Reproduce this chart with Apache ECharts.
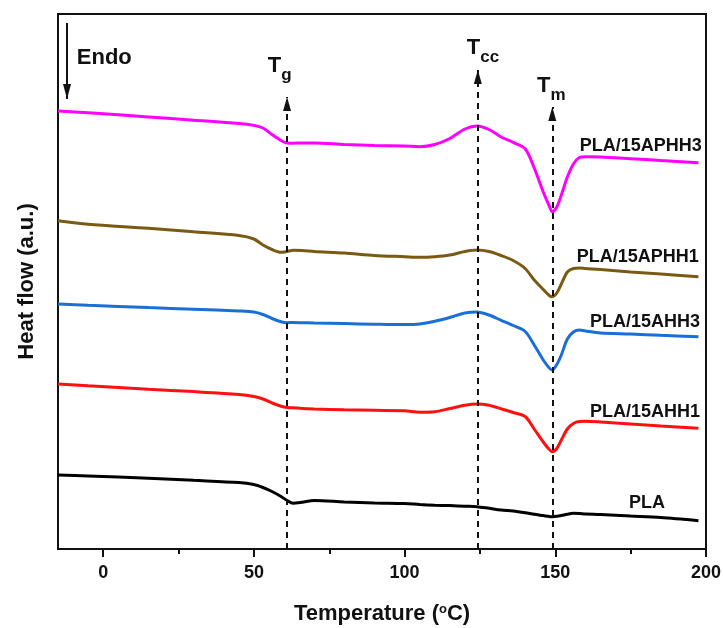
<!DOCTYPE html>
<html><head><meta charset="utf-8">
<script src="https://cdn.jsdelivr.net/npm/echarts@6/dist/echarts.min.js"></script>
<style>html,body{margin:0;padding:0;background:#fff}#c{width:723px;height:628px}</style>
</head><body><div id="c"></div>
<script>
// Temperature (°C) sample points shared by all curves
const temperature = [-15, -5, 15, 30, 45, 50, 53, 56, 59, 61, 63, 66, 70, 80, 90, 100, 105, 110, 115, 120, 124, 128, 132, 136, 140, 143, 146, 148, 149, 150.5, 152, 154, 156, 158, 160, 165, 175, 185, 197.5];
// Heat flow (a.u., stacked/offset as in the figure)
const heatPLA_15APHH3 = [438, 436.3, 432, 428.8, 425.5, 423.6, 421, 414.5, 408.5, 406, 405.8, 406, 406, 404.5, 403.5, 403, 402.3, 404.5, 410.5, 420, 423, 419.5, 412, 406.7, 400.2, 381, 357, 343, 337.3, 342, 354, 372, 385, 391.5, 392.3, 392, 390.3, 388.5, 386.3];
const heatPLA_15APHH1 = [328.3, 324.7, 320.8, 317.2, 313.5, 310, 304, 299.5, 296.7, 297.5, 298.7, 298.5, 297.5, 296, 293.5, 292.3, 291.7, 292.3, 294, 297.5, 299, 297.5, 293.5, 288.5, 280.5, 269, 259.5, 253.5, 252.3, 256, 265, 277, 280.5, 281, 280.5, 279.5, 277, 275, 272.3];
const heatPLA_15AHH3 = [245, 243.7, 241.4, 239.8, 238, 237, 234.5, 230.5, 227.3, 226.3, 226.5, 226.3, 226, 225.4, 224.8, 224.4, 225, 227.7, 231.5, 236, 237, 234, 228.7, 223.5, 217.5, 204, 189, 181, 179, 184.5, 194, 210, 217, 219, 218, 216, 215, 213.7, 212.3];
const heatPLA_15AHH1 = [165, 163.2, 159.8, 157.4, 154.5, 152.5, 150, 146, 142.8, 141.5, 141.2, 140.5, 140, 139.2, 138.7, 138.3, 136.8, 137.3, 140.5, 143.7, 145, 143.7, 140.3, 136.5, 132.5, 120, 107, 99.5, 97.3, 100.5, 109, 120, 125.5, 127.5, 127.7, 127, 125, 123, 120.7];
const heatPLA = [74, 73, 70.8, 68.7, 66.5, 64.5, 61.5, 57.5, 52.5, 48.5, 45.7, 46.7, 48.5, 47, 46, 45.5, 44.5, 43.8, 43.4, 42.8, 42.3, 40.7, 39, 38, 36.3, 34.7, 33.4, 32.5, 32.3, 32.7, 33.5, 34.8, 35.7, 35.5, 35, 34.5, 33, 31.5, 28.3];
const seriesNames = ['PLA/15APHH3', 'PLA/15APHH1', 'PLA/15AHH3', 'PLA/15AHH1', 'PLA'];
// Transition temperatures marked by dashed arrows
const transitionTemps = [61, 124.3, 149];
const transitionSubs = ['g', 'cc', 'm'];
const xTickValues = [0, 50, 100, 150, 200];
const xMinorTickValues = [25, 75, 125, 175];

const FONT = 'Arial, "Liberation Sans", Helvetica, sans-serif';
const heats = [heatPLA_15APHH3, heatPLA_15APHH1, heatPLA_15AHH3, heatPLA_15AHH1, heatPLA];
const colors = ['#ff00ff', '#7a5912', '#1a6fd6', '#ff1010', '#000000'];
const labelAnchors = [[198.8, 402], [197.8, 291], [198.2, 226.5], [198.2, 136], [186.6, 45]];
const arrowTips = [452, 479, 442];
const tLabelAnchors = [[54.8, 494], [120.8, 512], [144.1, 474]];
const arrowPath = 'path://M5 0 L10 14 L0 14 Z';

const series = seriesNames.map((name, i) => ({
  name, type: 'line', smooth: 0.3, symbol: 'none',
  data: temperature.map((t, j) => [t, heats[i][j]]),
  lineStyle: { color: colors[i], width: 3 },
  itemStyle: { color: colors[i] },
  silent: true, z: 3,
  markPoint: {
    silent: true, symbol: 'circle', symbolSize: 1, itemStyle: { color: 'rgba(0,0,0,0)' },
    label: { show: true, position: [0, 0], align: 'right', verticalAlign: 'middle', formatter: '{b}',
      color: '#111', fontSize: 18, fontWeight: 'bold', fontFamily: FONT },
    data: [{ name, coord: labelAnchors[i] }]
  }
}));

// annotation markers attached to the PLA series
const pla = series[4];
pla.markLine = {
  silent: true, animation: false, symbol: ['none', arrowPath], symbolSize: [10, 14],
  label: { show: false },
  lineStyle: { color: '#111', width: 2, type: [6, 5] },
  data: transitionTemps.map((t, i) => [
    { coord: [t, 0], symbol: 'none' },
    { coord: [t, arrowTips[i]], symbol: arrowPath, symbolSize: [8, 14], symbolOffset: [0, 7] }
  ]).concat([[
    { coord: [-12, 526], symbol: 'none', lineStyle: { type: 'solid', width: 2, color: '#111' } },
    { coord: [-12, 450], symbol: arrowPath, symbolSize: [8, 15], symbolOffset: [0, 7.5] }
  ]])
};
pla.markPoint.data = pla.markPoint.data.concat(
  transitionSubs.map((s, i) => ({
    name: s, coord: tLabelAnchors[i],
    label: { show: true, position: [0, 0], align: 'left', verticalAlign: 'top',
      formatter: '{t|T}{s|' + s + '}',
      rich: {
        t: { fontSize: 22, fontWeight: 'bold', fontFamily: FONT, color: '#111', lineHeight: 22, verticalAlign: 'top' },
        s: { fontSize: 17, fontWeight: 'bold', fontFamily: FONT, color: '#111', lineHeight: 17, padding: [12, 0, 0, 0], verticalAlign: 'top' }
      } }
  })),
  [{ name: 'Endo', coord: [-8.6, 502],
     label: { show: true, position: [0, 0], align: 'left', verticalAlign: 'top', formatter: 'Endo',
       fontSize: 22, fontWeight: 'bold', fontFamily: FONT, color: '#111', lineHeight: 22 } }]
);

const chart = echarts.init(document.getElementById('c'), null, { renderer: 'canvas' });
chart.setOption({
  animation: false,
  backgroundColor: '#fff',
  grid: { left: 58, right: 17, top: 14, bottom: 79, show: true, borderColor: '#111', borderWidth: 2, outerBoundsMode: 'none' },
  xAxis: [{
    type: 'value', min: -15, max: 200,
    name: '{a|Temperature (}{s|o}{a|C)}', nameLocation: 'middle', nameGap: 54,
    nameTextStyle: { rich: {
      a: { fontSize: 22, fontWeight: 'bold', fontFamily: FONT, color: '#111', lineHeight: 22, verticalAlign: 'bottom' },
      s: { fontSize: 13, fontWeight: 'bold', fontFamily: FONT, color: '#111', lineHeight: 13, verticalAlign: 'top' } } },
    axisLine: { onZero: false, lineStyle: { color: '#111', width: 2 } },
    axisTick: { show: true, inside: false, length: 8, lineStyle: { color: '#111', width: 2 }, customValues: xTickValues },
    axisLabel: { customValues: xTickValues, margin: 15, fontSize: 18, fontWeight: 'bold', fontFamily: FONT, color: '#111' },
    splitLine: { show: false }
  }, {
    type: 'value', min: -15, max: 200, position: 'bottom',
    axisLine: { show: false, onZero: false },
    axisTick: { show: true, inside: false, length: 5, lineStyle: { color: '#111', width: 2 }, customValues: xMinorTickValues },
    axisLabel: { show: false }, splitLine: { show: false }
  }],
  yAxis: {
    type: 'value', min: 0, max: 535, position: 'left',
    name: 'Heat flow (a.u.)', nameLocation: 'middle', nameRotate: 90, nameGap: 20,
    nameTextStyle: { fontSize: 22, fontWeight: 'bold', fontFamily: FONT, color: '#111' },
    axisLine: { show: true, onZero: false, lineStyle: { color: '#111', width: 2 } },
    axisTick: { show: false }, axisLabel: { show: false }, splitLine: { show: false }
  },
  series
});
</script></body></html>
